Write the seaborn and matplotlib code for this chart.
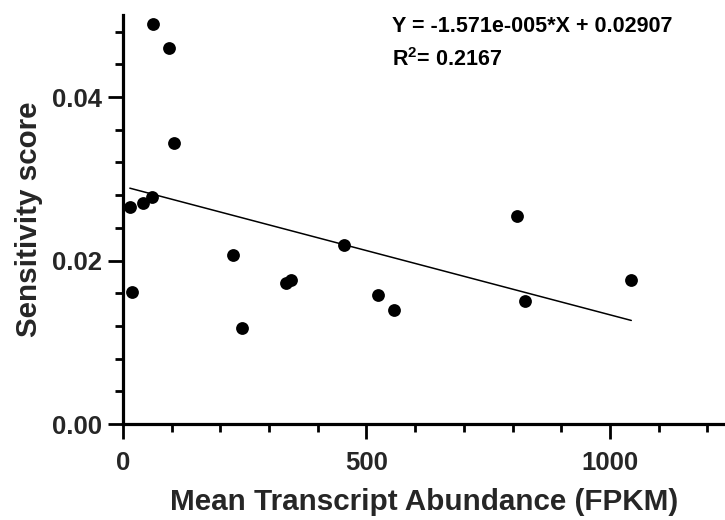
import numpy as np
import pandas as pd
import matplotlib
matplotlib.use("Agg")
import matplotlib.pyplot as plt
from matplotlib.ticker import MultipleLocator, FormatStrFormatter
import seaborn as sns

# Mean transcript abundance (FPKM) and sensitivity score per gene
fpkm = [14, 18, 40, 59, 61, 94, 104, 226, 245, 335, 344, 453, 523, 557, 810, 826, 1044]
sensitivity = [0.0265, 0.0161, 0.0270, 0.0278, 0.0489, 0.0460, 0.0344, 0.0207, 0.0117,
               0.0173, 0.0176, 0.0219, 0.0158, 0.0139, 0.0255, 0.0150, 0.0176]

# Linear regression results
slope = -1.571e-5
intercept = 0.02907
r_squared = 0.2167

x_ticks = [0, 500, 1000]
y_ticks = [0.00, 0.02, 0.04]

sns.set_theme(style="ticks")
plt.rcParams["font.family"] = ["Liberation Sans", "DejaVu Sans"]
plt.rcParams["font.weight"] = "bold"
plt.rcParams["mathtext.fontset"] = "custom"
plt.rcParams["mathtext.rm"] = "Liberation Sans:bold"
plt.rcParams["mathtext.it"] = "Liberation Sans:bold"
plt.rcParams["mathtext.bf"] = "Liberation Sans:bold"

df = pd.DataFrame({"FPKM": fpkm, "Sensitivity": sensitivity})

fig = plt.figure(figsize=(7.25, 5.2), dpi=100)
ax = fig.add_axes([0.1697, 0.1846, 0.8293, 0.786])

# Fitted line spanning the observed X range
fit_x = np.array([min(fpkm), max(fpkm)])
fit = pd.DataFrame({"FPKM": fit_x, "Fit": slope * fit_x + intercept})
sns.lineplot(data=fit, x="FPKM", y="Fit", ax=ax, color="black", linewidth=1.1, zorder=2)

sns.scatterplot(data=df, x="FPKM", y="Sensitivity", ax=ax, color="black", s=85,
                edgecolor="black", linewidth=0, zorder=3, clip_on=False)

ax.set_xlim(0, 1235)
ax.set_ylim(0, 0.05)

ax.xaxis.set_minor_locator(MultipleLocator(100))
ax.set_xticks(x_ticks)
ax.yaxis.set_minor_locator(MultipleLocator(0.004))
ax.set_yticks(y_ticks)
ax.yaxis.set_major_formatter(FormatStrFormatter("%.2f"))

for side in ("top", "right"):
    ax.spines[side].set_visible(False)
for side in ("left", "bottom"):
    ax.spines[side].set_linewidth(2.3)
    ax.spines[side].set_color("black")

ax.tick_params(which="major", direction="out", length=10.5, width=2.0, color="black",
               labelsize=18.5)
ax.tick_params(axis="x", which="major", pad=9)
ax.tick_params(axis="y", which="major", pad=5)
ax.tick_params(which="minor", direction="out", length=6, width=2.0, color="black")
for lbl in ax.get_xticklabels() + ax.get_yticklabels():
    lbl.set_fontweight("bold")

ax.set_xlabel("Mean Transcript Abundance (FPKM)", fontsize=21.3, fontweight="bold", labelpad=9)
ax.set_ylabel("Sensitivity score", fontsize=21.3, fontweight="bold", labelpad=6)

eq_text = f"Y = {slope:.3e}*X + {intercept}".replace("e-05", "e-005")
ax.text(553, 0.04795, eq_text, fontsize=15.5, fontweight="bold",
        va="baseline", ha="left", color="black")
ax.text(553, 0.04380, r"R$^{2}$= " + f"{r_squared}", fontsize=15.5,
        fontweight="bold", va="baseline", ha="left", color="black")

fig.savefig("out.png", dpi=100)
